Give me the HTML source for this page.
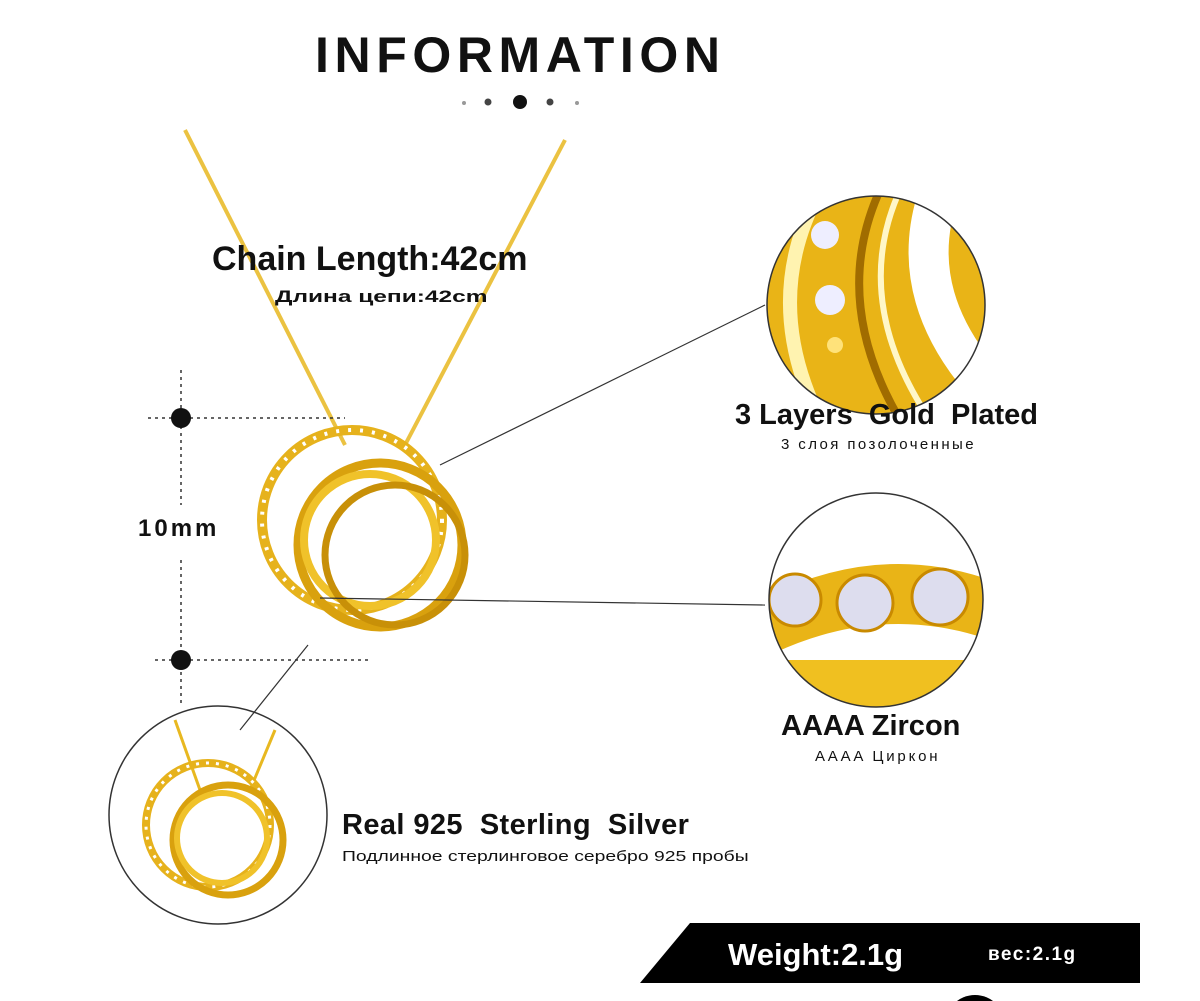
<!DOCTYPE html>
<html><head><meta charset="utf-8">
<style>
html,body{margin:0;padding:0;background:#fff;overflow:hidden;}
body{width:1200px;height:1001px;overflow:hidden;position:relative;font-family:"Liberation Sans",sans-serif;}
.t{position:absolute;white-space:nowrap;color:#111;transform-origin:left top;}
</style></head><body>
<svg width="1200" height="1001" style="position:absolute;left:0;top:0">
<defs>
<clipPath id="c1"><circle cx="876" cy="305" r="109"/></clipPath>
<clipPath id="c2"><circle cx="876" cy="600" r="107"/></clipPath>
<clipPath id="c3"><circle cx="218" cy="815" r="109"/></clipPath>
</defs>
<line x1="185" y1="130" x2="345" y2="445" stroke="#e8b820" stroke-width="4" opacity="0.85"/>
<line x1="565" y1="140" x2="405" y2="445" stroke="#e8b820" stroke-width="4" opacity="0.85"/>
<circle cx="464" cy="103" r="2" fill="#999"/><circle cx="488" cy="102" r="3.5" fill="#444"/>
<circle cx="520" cy="102" r="7" fill="#111"/><circle cx="550" cy="102" r="3.5" fill="#444"/>
<circle cx="577" cy="103" r="2" fill="#999"/>
<g stroke="#333" stroke-width="1.5" stroke-dasharray="3,4" fill="none">
<line x1="181" y1="370" x2="181" y2="505"/><line x1="181" y1="560" x2="181" y2="705"/>
<line x1="148" y1="418" x2="345" y2="418"/><line x1="155" y1="660" x2="370" y2="660"/>
</g>
<circle cx="181" cy="418" r="10" fill="#111"/><circle cx="181" cy="660" r="10" fill="#111"/>
<g fill="none">
<circle cx="352" cy="520" r="90" stroke="#e6b21c" stroke-width="10"/>
<circle cx="352" cy="520" r="90" stroke="#fff" stroke-width="4" stroke-dasharray="3,9"/>
<circle cx="380" cy="545" r="82" stroke="#d9a10e" stroke-width="9"/>
<circle cx="370" cy="540" r="66" stroke="#f0c22a" stroke-width="8"/>
<circle cx="395" cy="555" r="70" stroke="#c89008" stroke-width="7"/>
</g>
<g stroke="#333" stroke-width="1.2">
<line x1="440" y1="465" x2="765" y2="305"/>
<line x1="320" y1="598" x2="765" y2="605"/>
<line x1="308" y1="645" x2="240" y2="730"/>
</g>
<g clip-path="url(#c1)">
<rect x="760" y="190" width="240" height="230" fill="#e9b417"/>
<path d="M820 190 Q760 300 820 420" stroke="#fff3b0" stroke-width="14" fill="none"/>
<path d="M880 190 Q830 300 900 420" stroke="#a06c00" stroke-width="8" fill="none"/>
<path d="M900 190 Q850 300 930 420" stroke="#fff7c8" stroke-width="6" fill="none"/>
<path d="M940 190 Q900 300 1000 400" stroke="#fff" stroke-width="40" fill="none"/>
<circle cx="825" cy="235" r="14" fill="#eef"/><circle cx="830" cy="300" r="15" fill="#eef"/><circle cx="835" cy="345" r="8" fill="#ffe27a"/>
</g>
<circle cx="876" cy="305" r="109" fill="none" stroke="#333" stroke-width="1.5"/>
<g clip-path="url(#c2)">
<rect x="760" y="490" width="240" height="220" fill="#fff"/>
<path d="M760 600 Q876 540 990 580 L990 640 Q876 600 760 660 Z" fill="#e9b417"/>
<rect x="760" y="660" width="240" height="60" fill="#f0c020"/>
<circle cx="795" cy="600" r="26" fill="#dde" stroke="#c98a00" stroke-width="3"/>
<circle cx="865" cy="603" r="28" fill="#dde" stroke="#c98a00" stroke-width="3"/>
<circle cx="940" cy="597" r="28" fill="#dde" stroke="#c98a00" stroke-width="3"/>
</g>
<circle cx="876" cy="600" r="107" fill="none" stroke="#333" stroke-width="1.5"/>
<g clip-path="url(#c3)">
<line x1="175" y1="720" x2="200" y2="790" stroke="#e8b820" stroke-width="3"/>
<line x1="275" y1="730" x2="250" y2="790" stroke="#e8b820" stroke-width="3"/>
<g fill="none">
<circle cx="208" cy="825" r="62" stroke="#e6b21c" stroke-width="8"/>
<circle cx="208" cy="825" r="62" stroke="#fff" stroke-width="3" stroke-dasharray="3,7"/>
<circle cx="228" cy="840" r="55" stroke="#d9a10e" stroke-width="7"/>
<circle cx="222" cy="838" r="45" stroke="#f0c22a" stroke-width="6"/>
</g>
</g>
<circle cx="218" cy="815" r="109" fill="none" stroke="#333" stroke-width="1.5"/>
<polygon points="690,923 1140,923 1140,983 640,983" fill="#000"/>
<circle cx="975" cy="1025" r="30" fill="#000"/>
</svg>
<div class="t" style="left:315px;top:26px;font-size:50px;font-weight:bold;letter-spacing:5.6px;">INFORMATION</div>
<div class="t" style="left:212px;top:240px;font-size:34px;font-weight:bold;">Chain Length:42cm</div>
<div class="t" style="left:275px;top:287px;font-size:17px;font-weight:bold;transform:scaleX(1.44);">Длина цепи:42cm</div>
<div class="t" style="left:138px;top:515px;font-size:24px;font-weight:bold;letter-spacing:3px;">10mm</div>
<div class="t" style="left:735px;top:399px;font-size:29px;font-weight:bold;">3 Layers&nbsp; Gold&nbsp; Plated</div>
<div class="t" style="left:781px;top:436px;font-size:15px;letter-spacing:2.4px;">3 слоя позолоченные</div>
<div class="t" style="left:781px;top:710px;font-size:29px;font-weight:bold;">AAAA Zircon</div>
<div class="t" style="left:815px;top:748px;font-size:15px;letter-spacing:2.8px;">AAAA Циркон</div>
<div class="t" style="left:342px;top:809px;font-size:29px;font-weight:bold;letter-spacing:0.4px;">Real 925&nbsp; Sterling&nbsp; Silver</div>
<div class="t" style="left:342px;top:848px;font-size:15px;transform:scaleX(1.29);">Подлинное стерлинговое серебро 925 пробы</div>
<div class="t" style="left:728px;top:937px;font-size:31px;font-weight:bold;color:#fff;">Weight:2.1g</div>
<div class="t" style="left:988px;top:944px;font-size:19px;font-weight:bold;color:#fff;letter-spacing:1.5px;">вес:2.1g</div>
</body></html>
